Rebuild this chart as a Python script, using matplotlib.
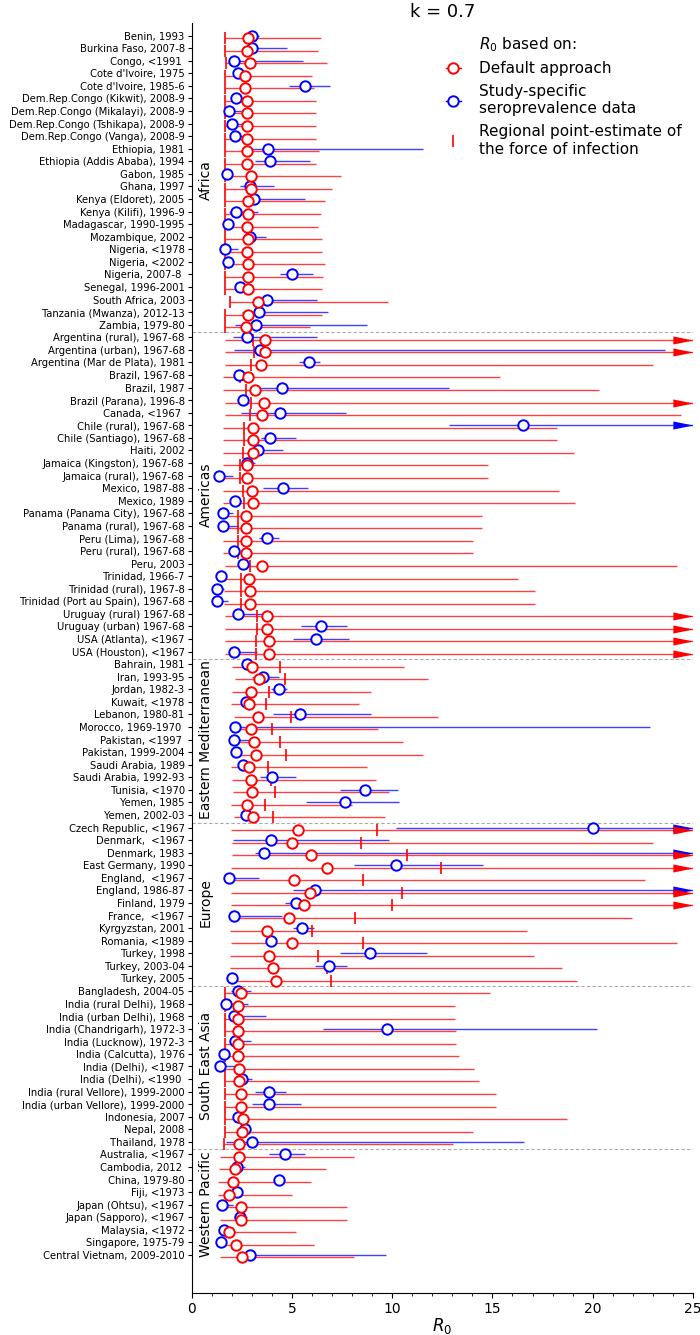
import numpy as np
import matplotlib
matplotlib.use('Agg')
import matplotlib.pyplot as plt
from matplotlib.lines import Line2D

NA = np.nan
OFF = 30.0  # upper bound beyond the axis (> 25): drawn as an arrow

regions = ['Africa', 'Americas', 'Eastern Mediterranean', 'Europe',
           'South East Asia', 'Western Pacific']
region_sizes = [24, 26, 13, 13, 13, 9]

labels = [
    # Africa
    'Benin, 1993', 'Burkina Faso, 2007-8', 'Congo, <1991 ', "Cote d'Ivoire, 1975",
    "Cote d'Ivoire, 1985-6", 'Dem.Rep.Congo (Kikwit), 2008-9',
    'Dem.Rep.Congo (Mikalayi), 2008-9', 'Dem.Rep.Congo (Tshikapa), 2008-9',
    'Dem.Rep.Congo (Vanga), 2008-9', 'Ethiopia, 1981', 'Ethiopia (Addis Ababa), 1994',
    'Gabon, 1985', 'Ghana, 1997', 'Kenya (Eldoret), 2005', 'Kenya (Kilifi), 1996-9',
    'Madagascar, 1990-1995', 'Mozambique, 2002', 'Nigeria, <1978', 'Nigeria, <2002',
    'Nigeria, 2007-8 ', 'Senegal, 1996-2001', 'South Africa, 2003',
    'Tanzania (Mwanza), 2012-13', 'Zambia, 1979-80',
    # Americas
    'Argentina (rural), 1967-68', 'Argentina (urban), 1967-68',
    'Argentina (Mar de Plata), 1981', 'Brazil, 1967-68', 'Brazil, 1987',
    'Brazil (Parana), 1996-8', 'Canada, <1967 ', 'Chile (rural), 1967-68',
    'Chile (Santiago), 1967-68', 'Haiti, 2002', 'Jamaica (Kingston), 1967-68',
    'Jamaica (rural), 1967-68', 'Mexico, 1987-88', 'Mexico, 1989',
    'Panama (Panama City), 1967-68', 'Panama (rural), 1967-68', 'Peru (Lima), 1967-68',
    'Peru (rural), 1967-68', 'Peru, 2003', 'Trinidad, 1966-7', 'Trinidad (rural), 1967-8',
    'Trinidad (Port au Spain), 1967-68', 'Uruguay (rural) 1967-68',
    'Uruguay (urban) 1967-68', 'USA (Atlanta), <1967', 'USA (Houston), <1967',
    # Eastern Mediterranean
    'Bahrain, 1981', 'Iran, 1993-95', 'Jordan, 1982-3', 'Kuwait, <1978',
    'Lebanon, 1980-81', 'Morocco, 1969-1970 ', 'Pakistan, <1997 ', 'Pakistan, 1999-2004',
    'Saudi Arabia, 1989', 'Saudi Arabia, 1992-93', 'Tunisia, <1970', 'Yemen, 1985',
    'Yemen, 2002-03',
    # Europe
    'Czech Republic, <1967', 'Denmark,  <1967', 'Denmark, 1983', 'East Germany, 1990',
    'England,  <1967', 'England, 1986-87', 'Finland, 1979', 'France,  <1967',
    'Kyrgyzstan, 2001', 'Romania, <1989', 'Turkey, 1998', 'Turkey, 2003-04',
    'Turkey, 2005',
    # South East Asia
    'Bangladesh, 2004-05', 'India (rural Delhi), 1968', 'India (urban Delhi), 1968',
    'India (Chandrigarh), 1972-3', 'India (Lucknow), 1972-3', 'India (Calcutta), 1976',
    'India (Delhi), <1987', 'India (Delhi), <1990 ', 'India (rural Vellore), 1999-2000',
    'India (urban Vellore), 1999-2000', 'Indonesia, 2007', 'Nepal, 2008', 'Thailand, 1978',
    # Western Pacific
    'Australia, <1967', 'Cambodia, 2012 ', 'China, 1979-80', 'Fiji, <1973',
    'Japan (Ohtsu), <1967', 'Japan (Sapporo), <1967', 'Malaysia, <1972',
    'Singapore, 1975-79', 'Central Vietnam, 2009-2010',
]

default_est = [
    2.80, 2.74, 2.89, 2.65, 2.67, 2.74, 2.74, 2.74, 2.74, 2.74, 2.76, 2.94, 2.94, 2.83,
    2.80, 2.76, 2.80, 2.76, 2.83, 2.80, 2.83, 3.32, 2.80, 2.69,
    3.65, 3.65, 3.47, 2.80, 3.18, 3.61, 3.52, 3.05, 3.05, 3.07, 2.76, 2.76, 3.00, 3.05,
    2.69, 2.69, 2.69, 2.69, 3.50, 2.85, 2.89, 2.89, 3.76, 3.76, 3.87, 3.87,
    3.03, 3.36, 2.98, 2.85, 3.29, 2.98, 3.09, 3.21, 2.87, 2.98, 3.03, 2.78, 3.07,
    5.30, 4.99, 5.94, 6.75, 5.12, 5.90, 5.59, 4.88, 3.74, 4.99, 3.87, 4.07, 4.19,
    2.47, 2.29, 2.29, 2.29, 2.29, 2.32, 2.36, 2.38, 2.47, 2.47, 2.58, 2.49, 2.36,
    2.34, 2.16, 2.07, 1.89, 2.45, 2.45, 1.89, 2.20, 2.52,
]
default_lo = [
    1.69, 1.69, 1.74, 1.69, 1.69, 1.69, 1.69, 1.69, 1.69, 1.69, 1.69, 1.69, 1.69, 1.69,
    1.69, 1.69, 1.69, 1.69, 1.69, 1.69, 1.69, 1.94, 1.69, 1.69,
    1.67, 1.67, 1.67, 1.58, 1.58, 1.67, 1.67, 1.58, 1.58, 1.58, 1.58, 1.58, 1.58, 1.58,
    1.58, 1.58, 1.58, 1.58, 1.67, 1.62, 1.62, 1.62, 1.69, 1.69, 1.69, 1.69,
    2.00, 2.18, 2.03, 1.98, 2.11, 2.03, 2.03, 2.03, 1.98, 2.03, 2.07, 1.96, 2.11,
    1.96, 2.03, 2.03, 1.98, 1.98, 1.96, 1.98, 1.98, 1.91, 1.98, 1.91, 1.91, 1.91,
    1.67, 1.67, 1.67, 1.67, 1.67, 1.67, 1.67, 1.67, 1.67, 1.67, 1.67, 1.67, 1.62,
    1.40, 1.36, 1.33, 1.33, 1.33, 1.40, 1.33, 1.40, 1.40,
]
default_hi = [
    6.46, 6.30, 6.77, 5.99, 6.08, 6.19, 6.19, 6.19, 6.19, 6.34, 6.19, 7.46, 7.01, 6.63,
    6.46, 6.30, 6.52, 6.52, 6.63, 6.57, 6.52, 9.77, 6.48, 5.90,
    OFF, OFF, 23.0, 15.38, 20.32, OFF, 24.4, 18.21, 18.21, 19.06, 14.76, 14.76, 18.32,
    19.10, 14.47, 14.47, 14.05, 14.05, 24.2, 16.25, 17.12, 17.12, OFF, OFF, OFF, OFF,
    10.60, 11.78, 8.93, 8.35, 12.27, 9.31, 10.53, 11.55, 8.75, 9.19, 9.82, 8.01, 9.64,
    OFF, 23.0, OFF, OFF, 22.6, OFF, OFF, 21.95, 16.72, 24.2, 17.07, 18.46, 19.21,
    14.89, 13.11, 13.11, 13.18, 13.18, 13.33, 14.09, 14.31, 15.20, 15.20, 18.74, 14.02, 13.02,
    8.08, 6.68, 5.97, 5.01, 7.75, 7.77, 5.21, 6.10, 8.08,
]
foi_est = [
    1.69, 1.69, 1.74, 1.69, 1.69, 1.69, 1.69, 1.69, 1.69, 1.69, 1.69, 1.69, 1.69, 1.69,
    1.69, 1.69, 1.69, 1.69, 1.69, 1.69, 1.69, 1.94, 1.69, 1.69,
    3.07, 3.09, 2.96, 2.43, 2.69, 2.98, 2.92, 2.63, 2.63, 2.58, 2.40, 2.40, 2.56, 2.63,
    2.32, 2.32, 2.32, 2.32, 2.92, 2.45, 2.47, 2.47, 3.25, 3.25, 3.23, 3.23,
    4.41, 4.67, 3.87, 3.72, 4.94, 4.00, 4.39, 4.70, 3.83, 3.96, 4.14, 3.65, 4.07,
    9.26, 8.44, 10.73, 12.42, 8.55, 10.49, 10.00, 8.15, 6.01, 8.53, 6.30, 6.77, 6.97,
    1.67, 1.67, 1.67, 1.67, 1.67, 1.67, 1.67, 1.67, 1.67, 1.67, 1.67, 1.67, 1.62,
    NA, NA, NA, NA, NA, NA, NA, NA, NA,
]
sero_est = [
    3.00, 3.03, 2.11, 2.32, 5.65, 2.20, 1.85, 2.00, 2.16, 3.81, 3.92, 1.76, 2.89, 3.09,
    2.20, 1.83, 2.89, 1.69, 1.83, 5.03, 2.40, 3.76, 3.34, 3.21,
    2.76, 3.43, 5.83, 2.34, 4.50, 2.54, 4.41, 16.52, 3.90, 3.29, 2.74, 1.38, 4.56, 2.18,
    1.58, 1.56, 3.74, 2.11, 2.58, 1.49, 1.25, 1.27, 2.29, 6.46, 6.21, 2.11,
    2.74, 3.54, 4.34, 2.72, 5.39, 2.16, 2.09, 2.20, 2.54, 4.01, 8.66, 7.64, 2.72,
    19.99, 3.96, 3.63, 10.20, 1.87, 6.14, 5.19, 2.09, 5.52, 3.96, 8.90, 6.86, 2.00,
    2.29, 1.74, 2.09, 9.73, 2.18, 1.62, 1.42, 2.52, 3.87, 3.87, 2.29, 2.65, 3.03,
    4.67, 2.27, 4.36, 2.25, 1.51, 2.40, 1.62, 1.47, 2.89,
]
sero_lo = [
    2.85, 2.90, 1.96, 2.20, 4.85, 2.00, 1.80, 1.90, 2.05, 2.50, 3.14, 1.70, 2.40, 2.58,
    1.85, 1.75, 2.80, 1.60, 1.75, 4.41, 2.30, 3.63, 2.52, 2.14,
    2.07, 2.11, 5.37, 2.20, 3.29, 2.40, 2.47, 12.82, 3.47, 3.07, 2.50, 1.18, 3.54, 2.05,
    1.40, 1.45, 3.36, 1.85, 2.34, 1.40, 1.20, 1.20, 2.07, 5.45, 5.08, 1.96,
    2.55, 3.03, 3.96, 2.55, 4.07, 2.07, 2.00, 2.10, 2.30, 3.41, 7.41, 5.70, 2.60,
    10.20, 2.07, 3.18, 8.08, 1.80, 5.08, 4.67, 2.00, 5.08, 3.85, 7.41, 6.14, 1.95,
    1.96, 1.70, 2.00, 6.57, 2.05, 1.55, 1.35, 2.18, 3.18, 3.00, 2.20, 2.55, 1.74,
    3.85, 1.91, 4.25, 2.15, 1.45, 2.11, 1.55, 1.40, 2.52,
]
sero_hi = [
    3.36, 4.76, 5.57, 2.60, 6.92, 2.60, 2.60, 2.90, 2.90, 11.55, 5.88, 1.85, 4.12, 5.63,
    3.32, 2.07, 3.72, 2.29, 1.95, 6.03, 2.55, 6.26, 6.79, 8.75,
    6.23, 23.6, 6.41, 2.50, 12.82, 2.75, 7.72, OFF, 5.19, 4.56, 3.14, 2.05, 5.81, 2.45,
    2.05, 2.30, 4.36, 2.35, 2.80, 1.60, 1.60, 1.80, 4.00, 7.77, 7.86, 3.25,
    2.95, 4.34, 4.74, 2.95, 8.93, 22.84, 3.07, 2.30, 2.95, 5.23, 10.28, 10.35, 2.85,
    OFF, 9.82, OFF, 14.54, 3.36, OFF, 5.37, 4.50, 6.08, 4.05, 11.73, 7.75, 2.05,
    2.96, 2.80, 3.70, 20.19, 2.98, 1.70, 2.30, 3.03, 4.70, 5.48, 2.40, 2.75, 16.56,
    5.63, 2.65, 4.45, 2.35, 2.07, 2.78, 1.70, 1.55, 9.68,
]

XMAX = 25
RED_SHIFT = 0.2

# arrow-head marker (tip at the data point)
arrow_marker = [(0, 0), (-2.5, -0.5), (-2.5, 0.5), (0, 0)]

n = len(labels)
y = np.arange(n)
d_est = np.array(default_est); d_lo = np.array(default_lo); d_hi = np.array(default_hi)
f_est = np.array(foi_est)
s_est = np.array(sero_est); s_lo = np.array(sero_lo); s_hi = np.array(sero_hi)
yr = y + RED_SHIFT

fig = plt.figure(figsize=(7, 13.35), dpi=100)
ax = fig.add_axes([0.2737, 0.0317, 0.7163, 0.9511])

# intervals
ax.hlines(y, s_lo, np.minimum(s_hi, XMAX), color='blue', lw=1.0, alpha=0.75, zorder=2)
ax.hlines(yr, d_lo, np.minimum(d_hi, XMAX), color='red', lw=1.0, alpha=0.75, zorder=2)

# arrows for intervals exceeding the axis
m = s_hi > XMAX
ax.plot(np.full(m.sum(), XMAX), y[m], ls='none', marker=arrow_marker, ms=29,
        color='blue', mew=0, zorder=3, clip_on=False)
m = d_hi > XMAX
ax.plot(np.full(m.sum(), XMAX), yr[m], ls='none', marker=arrow_marker, ms=29,
        color='red', mew=0, zorder=3, clip_on=False)

# regional point estimate of FOI
ax.plot(f_est, yr, ls='none', marker='|', ms=9, mew=1.2, color='red', zorder=4)

# point estimates
ax.plot(s_est, y, ls='none', marker='o', ms=7.5, mew=1.4, mec='blue', mfc='white', zorder=5)
ax.plot(d_est, yr, ls='none', marker='o', ms=7.5, mew=1.4, mec='red', mfc='white', zorder=6)

# region separators and labels
bounds = np.cumsum(region_sizes)
starts = np.concatenate([[0], bounds[:-1]])
for b in bounds[:-1]:
    ax.axhline(b - 0.5 + 0.1, color='#aaaaaa', ls=(0, (3, 2)), lw=0.8, zorder=1)
for r, s, e in zip(regions, starts, bounds):
    ax.text(0.72, (s + e - 1) / 2, r, rotation=90, ha='center', va='center', fontsize=10)

ax.set_xlim(0, XMAX)
ax.set_ylim(100, -1)
ax.set_yticks(y)
ax.set_yticklabels(labels, fontsize=8, fontstretch='condensed')
ax.tick_params(axis='y', length=3, pad=2)
ax.set_xticks(np.arange(0, 26, 5))
ax.set_xticks(np.arange(0, 26, 1), minor=True)
ax.tick_params(axis='x', labelsize=10)
ax.set_xlabel('$R_0$', fontsize=12, labelpad=0)
ax.set_title('k = 0.7', fontsize=13, pad=4)
ax.spines['top'].set_visible(False)
ax.spines['right'].set_visible(False)

h0 = Line2D([], [], ls='none')
h1 = Line2D([], [], color='red', marker='o', mfc='white', mec='red', ms=7.5, mew=1.4, lw=1)
h2 = Line2D([], [], color='blue', marker='o', mfc='white', mec='blue', ms=7.5, mew=1.4, lw=1)
h3 = Line2D([], [], color='red', marker='|', ls='none', ms=9, mew=1.2)
ax.legend([h0, h1, h2, h3],
          ['$R_0$ based on:', 'Default approach', 'Study-specific\nseroprevalence data',
           'Regional point-estimate of\nthe force of infection'],
          loc='upper left', bbox_to_anchor=(0.617, 0.984), bbox_transform=fig.transFigure,
          frameon=False, fontsize=11, handlelength=1.0, handletextpad=1.2)

fig.savefig('out.png', dpi=100)
